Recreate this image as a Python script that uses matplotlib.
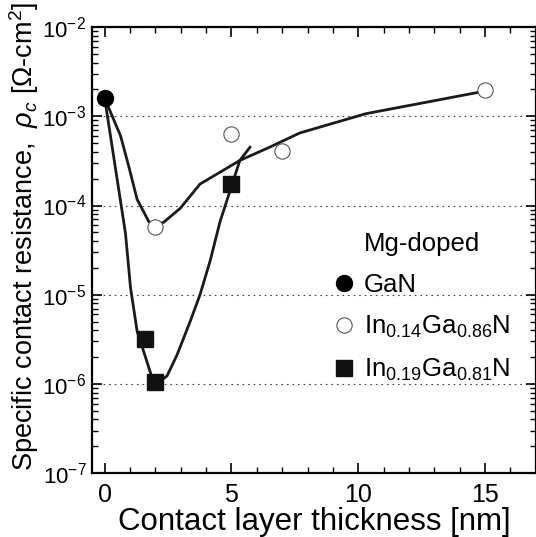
import matplotlib
matplotlib.use("Agg")
import matplotlib.pyplot as plt
from matplotlib.lines import Line2D
from matplotlib.ticker import LogLocator, NullFormatter, MultipleLocator

plt.rcParams.update({
    "font.family": ["Liberation Sans", "DejaVu Sans"],
    "mathtext.fontset": "custom",
    "mathtext.rm": "Liberation Sans",
    "mathtext.it": "Liberation Sans:italic",
    "mathtext.bf": "Liberation Sans:bold",
    "xtick.direction": "in",
    "ytick.direction": "in",
    "xtick.top": True,
    "ytick.right": True,
})

# measured points
gan_x = [0.0]
gan_rho = [1.6e-3]
in14_x = [2.0, 5.0, 7.0, 15.0]
in14_rho = [5.8e-5, 6.4e-4, 4.1e-4, 1.96e-3]
in19_x = [1.6, 2.0, 5.0]
in19_rho = [3.2e-6, 1.04e-6, 1.73e-4]

# guide-to-the-eye curves
fit14_x = [0.0, 0.63, 0.95, 1.28, 1.74, 2.0, 2.33, 2.98, 3.76, 5.33, 6.5,
           7.69, 10.3, 14.75]
fit14_rho = [1.6e-3, 6.0e-4, 2.75e-4, 1.17e-4, 6.6e-5, 6.0e-5, 6.5e-5,
             9.3e-5, 1.74e-4, 3.2e-4, 4.5e-4, 6.5e-4, 1.07e-3, 1.86e-3]
fit19_x = [0.0, 0.82, 1.02, 1.28, 1.54, 1.87, 2.15, 2.46, 2.85, 3.37, 3.76,
           4.16, 4.55, 4.94, 5.33, 5.73]
fit19_rho = [1.6e-3, 4.9e-5, 1.2e-5, 3.9e-6, 2.3e-6, 1.17e-6, 1.05e-6,
             1.23e-6, 2.1e-6, 5.0e-6, 1.0e-5, 2.4e-5, 6.6e-5, 1.45e-4,
             3.2e-4, 4.5e-4]

fig = plt.figure(figsize=(5.36, 5.37), dpi=100)
ax = fig.add_axes([0.1716, 0.119, 0.828, 0.8305])

ax.plot(fit14_x, fit14_rho, color="#1a1a1a", lw=2.0, zorder=2)
ax.plot(fit19_x, fit19_rho, color="#1a1a1a", lw=2.0, zorder=2)
ax.plot(gan_x, gan_rho, "o", ms=11.5, color="black", zorder=4)
ax.plot(in14_x, in14_rho, "o", ms=11, mfc="white", mec="#555555",
        mew=0.8, zorder=3)
ax.plot(in19_x, in19_rho, "s", ms=11, color="#111111", zorder=4)

ax.set_yscale("log")
ax.set_xlim(-0.5, 17)
ax.set_ylim(1e-7, 1e-2)
ax.xaxis.set_major_locator(MultipleLocator(5))
ax.xaxis.set_minor_locator(MultipleLocator(1))
ax.yaxis.set_major_locator(LogLocator(base=10, numticks=10))
ax.yaxis.set_minor_locator(LogLocator(base=10, subs=range(2, 10), numticks=20))
ax.yaxis.set_minor_formatter(NullFormatter())
ax.tick_params(which="major", length=7, width=1.2, labelsize=16, pad=4)
ax.tick_params(which="minor", length=4, width=1.0)
ax.tick_params(axis="x", labelsize=18, pad=7)
for s in ax.spines.values():
    s.set_linewidth(1.6)

ax.yaxis.grid(True, which="major", ls=(0, (1.5, 3.5)), lw=0.8, color="#444444")

ax.set_xlabel("Contact layer thickness [nm]", fontsize=22.5, labelpad=0)
ax.set_ylabel(r"Specific contact resistance,  $\rho_c$ [$\Omega$-cm$^2$]",
              fontsize=19.5)
ax.yaxis.set_label_coords(-0.115, 0.53)

handles = [
    Line2D([], [], ls="none", marker="o", ms=11.5, color="black"),
    Line2D([], [], ls="none", marker="o", ms=11, mfc="white", mec="#555555",
           mew=0.8),
    Line2D([], [], ls="none", marker="s", ms=11, color="#111111"),
]
labels = ["GaN", r"In$_{0.14}$Ga$_{0.86}$N", r"In$_{0.19}$Ga$_{0.81}$N"]
leg = ax.legend(handles, labels, title="Mg-doped", loc="upper left",
                bbox_to_anchor=(0.505, 0.58), frameon=False, fontsize=18.5,
                title_fontsize=18.5, handlelength=0.8, handletextpad=0.35,
                labelspacing=0.65, borderpad=0.2)

fig.savefig("out.png", dpi=100)
